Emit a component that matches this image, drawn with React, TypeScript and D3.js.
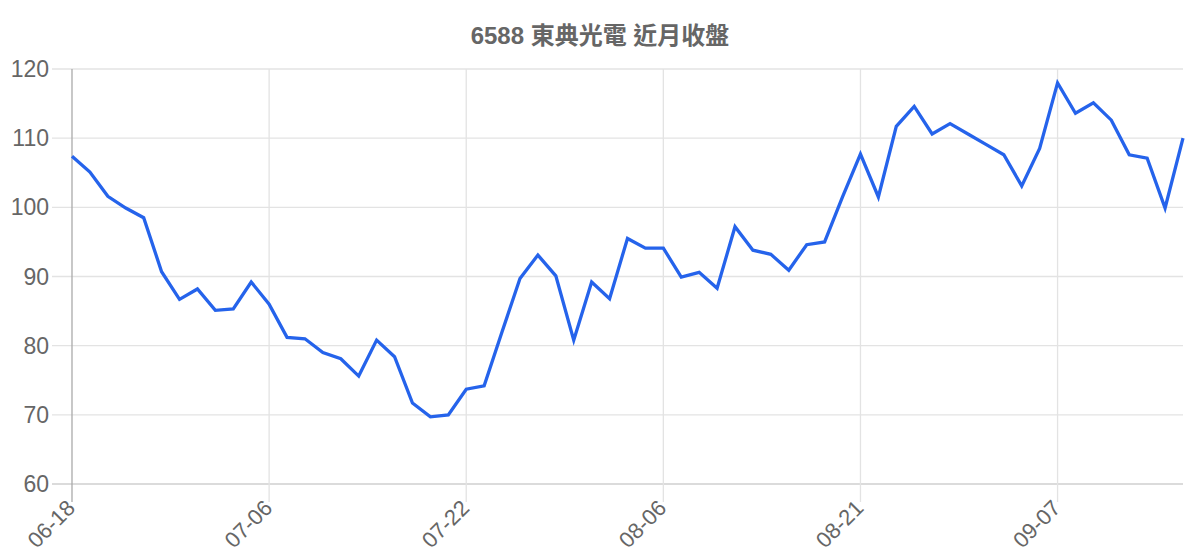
import * as d3 from 'd3'

const TITLE = '6588 東典光電 近月收盤'

const DATES = [
  '06-18', '06-22', '06-23', '06-24', '06-25', '06-26', '06-29', '06-30', '07-01', '07-02', '07-03',
  '07-06', '07-07', '07-08', '07-09', '07-10', '07-13', '07-15', '07-16', '07-17', '07-20', '07-21',
  '07-22', '07-23', '07-24', '07-27', '07-28', '07-29', '07-30', '07-31', '08-03', '08-04', '08-05',
  '08-06', '08-07', '08-10', '08-11', '08-12', '08-13', '08-14', '08-17', '08-18', '08-19', '08-20',
  '08-21', '08-24', '08-25', '08-26', '08-27', '08-28', '08-31', '09-01', '09-02', '09-03', '09-04',
  '09-07', '09-08', '09-09', '09-10', '09-11', '09-14', '09-15', '09-16',
]

const CLOSES = [
  107.4, 105.1, 101.6, 99.9, 98.5, 90.7, 86.7, 88.2, 85.1, 85.3, 89.2,
  86.0, 81.2, 81.0, 79.0, 78.1, 75.6, 80.8, 78.4, 71.7, 69.7, 70.0,
  73.7, 74.2, 82.0, 89.7, 93.1, 90.1, 80.8, 89.2, 86.8, 95.5, 94.1,
  94.1, 89.9, 90.6, 88.3, 97.2, 93.8, 93.2, 90.9, 94.6, 95.0, 101.5,
  107.7, 101.5, 111.7, 114.6, 110.6, 112.1, 110.6, 109.1, 107.6, 103.1, 108.5,
  118.0, 113.6, 115.1, 112.6, 107.6, 107.1, 99.9, 110.0,
]

const X_TICKS = ['06-18', '07-06', '07-22', '08-06', '08-21', '09-07']
const Y_TICKS = [60, 70, 80, 90, 100, 110, 120]

const W = 1200
const H = 560
const M = { top: 69, right: 17, bottom: 76, left: 72 }
const FONT = '"Liberation Sans", Arial, "Noto Sans CJK TC", sans-serif'

export default function App() {
  const x = d3
    .scalePoint<string>()
    .domain(DATES)
    .range([M.left, W - M.right])
  const y = d3
    .scaleLinear()
    .domain([60, 120])
    .range([H - M.bottom, M.top])

  const line = d3
    .line<number>()
    .x((_, i) => x(DATES[i]) as number)
    .y((d) => y(d))

  const bottom = H - M.bottom

  return (
    <div style={{ position: 'absolute', left: 0, top: 0 }}>
      <svg width={W} height={H} style={{ display: 'block', background: '#fff' }}>
        <text
          x={W / 2}
          y={44}
          textAnchor="middle"
          fontFamily={FONT}
          fontSize={24}
          fontWeight="bold"
          fill="#666"
        >
          {TITLE}
        </text>

        {/* horizontal grid + y ticks */}
        {Y_TICKS.map((t) => (
          <g key={t}>
            <line
              x1={M.left - 20}
              x2={W - M.right}
              y1={y(t)}
              y2={y(t)}
              stroke={t === 60 ? '#cfcfcf' : '#e3e3e3'}
              strokeWidth={1.3}
            />
            <text
              x={M.left - 23}
              y={y(t)}
              dy="0.35em"
              textAnchor="end"
              fontFamily={FONT}
              fontSize={23}
              fill="#666"
            >
              {t}
            </text>
          </g>
        ))}

        {/* vertical grid + x ticks */}
        {X_TICKS.map((d) => {
          const px = x(d) as number
          return (
            <g key={d}>
              <line
                x1={px}
                x2={px}
                y1={M.top}
                y2={bottom + 18}
                stroke={d === DATES[0] ? '#aaaaaa' : '#e3e3e3'}
                strokeWidth={1.3}
              />
              <text
                transform={`translate(${px - 1},${bottom + 20}) rotate(-45)`}
                textAnchor="end"
                dy="0.35em"
                fontFamily={FONT}
                fontSize={22}
                fill="#666"
              >
                {d}
              </text>
            </g>
          )
        })}

        <path
          d={line(CLOSES) ?? ''}
          fill="none"
          stroke="#2563eb"
          strokeWidth={3.3}
          strokeLinejoin="miter"
        />
      </svg>
    </div>
  )
}
